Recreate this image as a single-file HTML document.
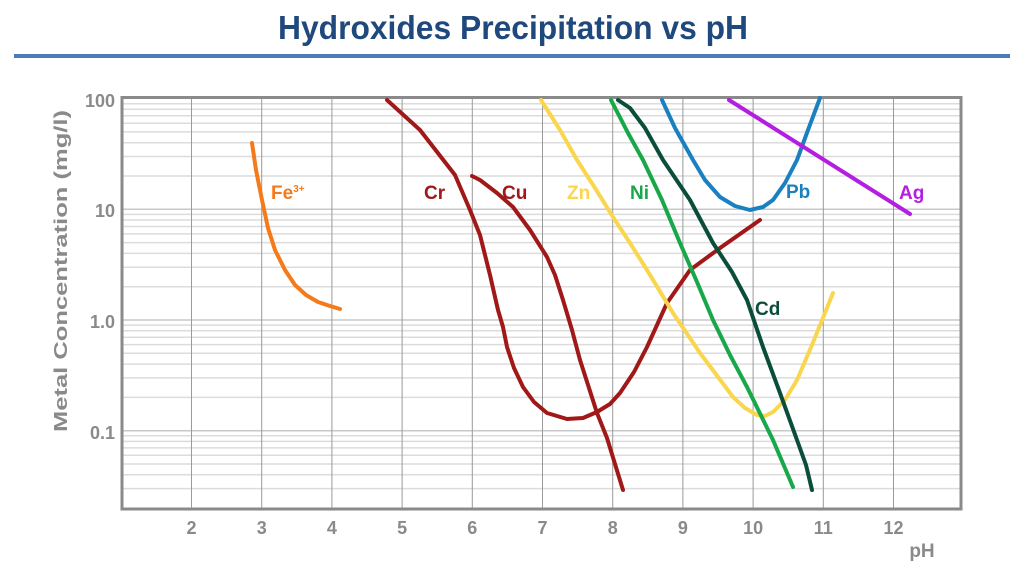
<!DOCTYPE html>
<html><head><meta charset="utf-8"><style>
html,body{margin:0;padding:0;background:#fff;width:1024px;height:566px;overflow:hidden}
svg text{font-family:"Liberation Sans",sans-serif;font-weight:bold}
</style></head><body>
<svg width="1024" height="566" viewBox="0 0 1024 566" xmlns="http://www.w3.org/2000/svg">
<text x="278" y="39" font-size="33" fill="#1f497d" textLength="470" lengthAdjust="spacingAndGlyphs">Hydroxides Precipitation vs pH</text>
<rect x="14" y="54" width="996" height="4" fill="#4a7ebb"/>
<g stroke="#dcdcdc" stroke-width="1.5">
<line x1="122" x2="961" y1="488.6" y2="488.6"/><line x1="122" x2="961" y1="474.8" y2="474.8"/><line x1="122" x2="961" y1="464" y2="464"/><line x1="122" x2="961" y1="455.3" y2="455.3"/><line x1="122" x2="961" y1="447.9" y2="447.9"/><line x1="122" x2="961" y1="441.4" y2="441.4"/><line x1="122" x2="961" y1="435.8" y2="435.8"/>
<line x1="122" x2="961" y1="397.4" y2="397.4"/><line x1="122" x2="961" y1="377.9" y2="377.9"/><line x1="122" x2="961" y1="364.1" y2="364.1"/><line x1="122" x2="961" y1="353.3" y2="353.3"/><line x1="122" x2="961" y1="344.6" y2="344.6"/><line x1="122" x2="961" y1="337.2" y2="337.2"/><line x1="122" x2="961" y1="330.7" y2="330.7"/><line x1="122" x2="961" y1="325.1" y2="325.1"/>
<line x1="122" x2="961" y1="286.7" y2="286.7"/><line x1="122" x2="961" y1="267.2" y2="267.2"/><line x1="122" x2="961" y1="253.4" y2="253.4"/><line x1="122" x2="961" y1="242.6" y2="242.6"/><line x1="122" x2="961" y1="233.9" y2="233.9"/><line x1="122" x2="961" y1="226.5" y2="226.5"/><line x1="122" x2="961" y1="220" y2="220"/><line x1="122" x2="961" y1="214.4" y2="214.4"/>
<line x1="122" x2="961" y1="176" y2="176"/><line x1="122" x2="961" y1="156.5" y2="156.5"/><line x1="122" x2="961" y1="142.7" y2="142.7"/><line x1="122" x2="961" y1="131.9" y2="131.9"/><line x1="122" x2="961" y1="123.2" y2="123.2"/><line x1="122" x2="961" y1="115.8" y2="115.8"/><line x1="122" x2="961" y1="109.3" y2="109.3"/><line x1="122" x2="961" y1="103.7" y2="103.7"/>
</g>
<g stroke="#c8c8c8" stroke-width="1.5">
<line x1="122" x2="961" y1="430.7" y2="430.7"/><line x1="122" x2="961" y1="320" y2="320"/><line x1="122" x2="961" y1="209.3" y2="209.3"/>
</g>
<g stroke="#9a9a9a" stroke-width="1">
<line y1="98" y2="509" x1="191.5" x2="191.5"/><line y1="98" y2="509" x1="261.7" x2="261.7"/><line y1="98" y2="509" x1="331.9" x2="331.9"/><line y1="98" y2="509" x1="402.1" x2="402.1"/><line y1="98" y2="509" x1="472.3" x2="472.3"/><line y1="98" y2="509" x1="542.5" x2="542.5"/><line y1="98" y2="509" x1="612.7" x2="612.7"/><line y1="98" y2="509" x1="682.9" x2="682.9"/><line y1="98" y2="509" x1="753.1" x2="753.1"/><line y1="98" y2="509" x1="823.3" x2="823.3"/><line y1="98" y2="509" x1="893.5" x2="893.5"/>
</g>
<rect x="122" y="97.5" width="839" height="411.5" fill="none" stroke="#8a8a8a" stroke-width="3"/>
<g font-size="18" fill="#8a8a8a" text-anchor="end">
<text x="115" y="107">100</text><text x="115" y="217">10</text><text x="115" y="328">1.0</text><text x="115" y="439">0.1</text>
</g>
<g font-size="18" fill="#8a8a8a" text-anchor="middle">
<text x="191.5" y="534">2</text><text x="261.7" y="534">3</text><text x="331.9" y="534">4</text><text x="402.1" y="534">5</text><text x="472.3" y="534">6</text><text x="542.5" y="534">7</text><text x="612.7" y="534">8</text><text x="682.9" y="534">9</text><text x="753.1" y="534">10</text><text x="823.3" y="534">11</text><text x="893.5" y="534">12</text>
<text x="922" y="557" font-size="19">pH</text>
</g>
<text transform="translate(67,432) rotate(-90)" font-size="18" fill="#8a8a8a" textLength="322" lengthAdjust="spacingAndGlyphs">Metal Concentration (mg/l)</text>
<g fill="none" stroke-width="4" stroke-linecap="round" stroke-linejoin="round">
<polyline stroke="#f47a1a" points="252,143 256,170 262,200 268,228 275,250 285,270 295,285 306,295 318,302 330,306 340,309"/>
<polyline stroke="#a01818" points="387,100 420,130 455,175 470,210 480,235 490,275 498,310 503,327 507,347 514,368 523,387 534,402 547,413 567,419 583,418 597,412 610,404 620,393 634,372 647,347 667,303 690,270 720,248 760,220"/>
<polyline stroke="#a01818" points="472,176 480,180 497,193 513,207 530,230 547,257 555,275 563,300 572,330 580,360 589,388 597,413 607,438 623,490"/>
<polyline stroke="#f9d64e" points="541,100 560,130 577,160 595,188 613,217 630,243 647,270 673,313 700,353 718,377 733,397 745,408 757,415 765,416 773,412 785,400 797,380 812,345 833,293"/>
<polyline stroke="#18a84a" points="611,100 628,133 643,160 662,200 680,243 697,282 713,320 730,355 747,387 773,440 793,487"/>
<polyline stroke="#0b4d3b" points="618,100 630,108 645,128 663,160 690,200 713,243 732,272 747,300 763,347 780,393 797,440 806,465 812,490"/>
<polyline stroke="#1a80bf" points="662,100 675,128 693,160 705,180 720,197 735,206 750,210 763,207 773,200 785,183 797,160 808,130 820,98"/>
<polyline stroke="#b41ee0" points="729,100 910,214"/>
</g>
<g font-size="19">
<text x="271" y="199" fill="#f47a1a">Fe<tspan font-size="10" dy="-7">3+</tspan></text>
<text x="424" y="199" fill="#a01818">Cr</text>
<text x="502" y="199" fill="#a01818">Cu</text>
<text x="567" y="199" fill="#f9d64e">Zn</text>
<text x="630" y="199" fill="#18a84a">Ni</text>
<text x="786" y="198" fill="#1a80bf">Pb</text>
<text x="899" y="199" fill="#b41ee0">Ag</text>
<text x="755" y="315" fill="#0b4d3b">Cd</text>
</g>
</svg>
</body></html>
